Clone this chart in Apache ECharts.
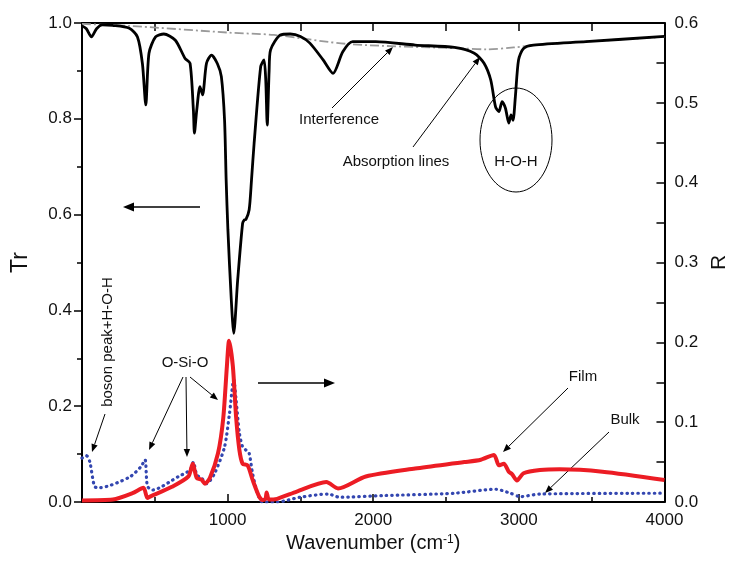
<!DOCTYPE html>
<html>
<head>
<meta charset="utf-8">
<script src="https://cdn.jsdelivr.net/npm/echarts@6/dist/echarts.min.js"></script>
<style>
  html, body { margin: 0; padding: 0; background: #fff; }
  #chart { width: 738px; height: 565px; }
</style>
</head>
<body>
<div id="chart"></div>
<script>
// transmission (left axis)
const trWn = [0, 30, 65, 100, 140, 210, 325, 381, 415, 438, 460, 505, 562, 641, 708, 742, 765, 772, 788, 810, 828, 855, 889, 930, 957, 979, 990, 1002, 1024, 1042, 1069, 1103, 1115, 1126, 1148, 1164, 1182, 1227, 1250, 1262, 1272, 1285, 1295, 1362, 1430, 1500, 1565, 1656, 1724, 1791, 1859, 2017, 2288, 2558, 2694, 2761, 2807, 2840, 2863, 2885, 2908, 2931, 2946, 2960, 2976, 2998, 3032, 3100, 3461, 4000];
const trVal = [0.994, 0.988, 0.971, 0.988, 0.996, 0.995, 0.989, 0.971, 0.915, 0.829, 0.937, 0.971, 0.977, 0.964, 0.926, 0.916, 0.818, 0.770, 0.818, 0.867, 0.850, 0.916, 0.933, 0.915, 0.888, 0.797, 0.672, 0.568, 0.429, 0.352, 0.463, 0.582, 0.589, 0.590, 0.610, 0.672, 0.749, 0.909, 0.923, 0.880, 0.787, 0.900, 0.944, 0.975, 0.977, 0.972, 0.958, 0.923, 0.895, 0.940, 0.961, 0.961, 0.954, 0.949, 0.937, 0.916, 0.881, 0.825, 0.815, 0.836, 0.822, 0.791, 0.808, 0.797, 0.846, 0.923, 0.947, 0.954, 0.961, 0.972];

// interference baseline (left axis)
const bgWn = [0, 325, 1002, 1318, 1836, 2604, 2784, 2965, 3122, 3500, 4000];
const bgVal = [0.998, 0.994, 0.980, 0.975, 0.956, 0.947, 0.945, 0.949, 0.954, 0.962, 0.971];

// reflection, film (right axis)
const filmWn = [0, 212, 347, 422, 449, 471, 618, 731, 760, 788, 821, 844, 878, 934, 970, 995, 1010, 1036, 1058, 1081, 1103, 1137, 1171, 1216, 1239, 1260, 1268, 1284, 1340, 1475, 1678, 1758, 1949, 2288, 2626, 2739, 2829, 2863, 2897, 2931, 2953, 2987, 3032, 3145, 3280, 3574, 4000];
const filmVal = [0.002, 0.003, 0.011, 0.018, 0.005, 0.007, 0.019, 0.032, 0.048, 0.030, 0.028, 0.023, 0.030, 0.061, 0.105, 0.170, 0.202, 0.170, 0.107, 0.065, 0.048, 0.046, 0.028, 0.007, 0.0025, 0.004, 0.012, 0.003, 0.004, 0.013, 0.025, 0.017, 0.032, 0.042, 0.050, 0.053, 0.059, 0.046, 0.048, 0.038, 0.035, 0.027, 0.036, 0.040, 0.041, 0.038, 0.0276];

// reflection, bulk (right axis)
const bulkWn = [0, 31, 54, 88, 122, 325, 404, 433, 449, 483, 663, 742, 765, 788, 821, 855, 911, 979, 1013, 1042, 1058, 1081, 1103, 1126, 1148, 1171, 1205, 1239, 1340, 1498, 1690, 1769, 2062, 2558, 2840, 2942, 3010, 3145, 4000];
const bulkVal = [0.055, 0.058, 0.050, 0.019, 0.018, 0.031, 0.044, 0.053, 0.020, 0.015, 0.032, 0.040, 0.050, 0.034, 0.030, 0.023, 0.036, 0.069, 0.111, 0.153, 0.128, 0.086, 0.069, 0.065, 0.061, 0.036, 0.011, 0.0, 0.0, 0.006, 0.010, 0.006, 0.008, 0.011, 0.016, 0.011, 0.0067, 0.010, 0.011];

const font = 'Liberation Sans, Arial, sans-serif';
const zip = (xs, ys) => xs.map((x, i) => [x, ys[i]]);

function arrow(x1, y1, x2, y2, w, head) {
    let a = Math.atan2(y2 - y1, x2 - x1);
    let hl = head || 8, hw = hl * 0.4;
    let bx = x2 - hl * Math.cos(a), by = y2 - hl * Math.sin(a);
    return [{
        type: 'line',
        shape: { x1: x1, y1: y1, x2: bx, y2: by },
        style: { stroke: '#000', lineWidth: w || 1 }
    }, {
        type: 'polygon',
        shape: { points: [[x2, y2],
            [bx + hw * Math.sin(a), by - hw * Math.cos(a)],
            [bx - hw * Math.sin(a), by + hw * Math.cos(a)]] },
        style: { fill: '#000' }
    }];
}

function label(text, x, y, size, rot) {
    return {
        type: 'text', x: x, y: y, rotation: rot || 0,
        style: { text: text, x: 0, y: 0, fill: '#111', fontSize: size || 15, fontFamily: font, align: 'center', verticalAlign: 'middle' }
    };
}

let graphics = [].concat(
    label('Interference', 339, 120),
    arrow(332, 108, 393, 47),
    label('Absorption lines', 396, 162),
    arrow(413, 147, 480, 57),
    { type: 'ellipse', shape: { cx: 516, cy: 140, rx: 36, ry: 52 }, style: { fill: 'none', stroke: '#000', lineWidth: 1 } },
    label('H-O-H', 516, 162),
    arrow(200, 207, 123, 207, 1.5, 11),
    arrow(258, 383, 335, 383, 1.5, 11),
    label('boson peak+H-O-H', 108, 342, 15, Math.PI / 2),
    arrow(105, 414, 92, 452),
    label('O-Si-O', 185, 363),
    arrow(183, 377, 149, 450),
    arrow(186, 377, 187, 457),
    arrow(190, 377, 218, 400),
    label('Film', 583, 377),
    arrow(568, 388, 503, 452),
    label('Bulk', 625, 420),
    arrow(609, 432, 545, 493)
);

const axisLineStyle = { color: '#000', width: 2 };
const tickStyle = { color: '#000', width: 1.5 };

let option = {
    animation: false,
    textStyle: { fontFamily: font },
    grid: { left: 82, right: 65, top: 23, bottom: 63 },
    xAxis: [{
        type: 'value', min: 0, max: 4000, interval: 1000,
        name: 'Wavenumber (cm{sup|-1})', nameLocation: 'middle', nameGap: 26,
        nameTextStyle: { fontSize: 20, color: '#111', verticalAlign: 'top',
            rich: { sup: { fontSize: 12, verticalAlign: 'top', padding: [0, 0, 8, 0] } } },
        axisLine: { onZero: false, lineStyle: axisLineStyle },
        axisTick: { inside: true, length: 8, lineStyle: tickStyle },
        minorTick: { show: true, splitNumber: 2, length: 5, lineStyle: tickStyle },
        axisLabel: { fontSize: 17, color: '#111', margin: 10, formatter: v => v === 0 ? '' : String(v) },
        splitLine: { show: false }
    }, {
        type: 'value', min: 0, max: 4000, interval: 1000, position: 'top',
        axisLine: { onZero: false, lineStyle: axisLineStyle },
        axisTick: { inside: true, length: 8, lineStyle: tickStyle },
        minorTick: { show: true, splitNumber: 2, length: 8, lineStyle: tickStyle },
        axisLabel: { show: false },
        splitLine: { show: false }
    }],
    yAxis: [{
        type: 'value', min: 0, max: 1, interval: 0.2, position: 'left',
        name: 'Tr', nameLocation: 'middle', nameGap: 50,
        nameTextStyle: { fontSize: 23, color: '#111' },
        axisLine: { show: true, onZero: false, lineStyle: axisLineStyle },
        axisTick: { show: true, length: 8, lineStyle: tickStyle },
        minorTick: { show: true, splitNumber: 2, length: 5, lineStyle: tickStyle },
        axisLabel: { fontSize: 17, color: '#111', margin: 10, formatter: v => v.toFixed(1) },
        splitLine: { show: false }
    }, {
        type: 'value', min: 0, max: 0.6, interval: 0.1, position: 'right',
        name: 'R', nameLocation: 'middle', nameGap: 34,
        nameTextStyle: { fontSize: 21, color: '#111' },
        axisLine: { show: true, onZero: false, lineStyle: axisLineStyle },
        axisTick: { show: true, inside: true, length: 8, lineStyle: tickStyle },
        minorTick: { show: true, splitNumber: 2, length: 8, lineStyle: tickStyle },
        axisLabel: { fontSize: 17, color: '#111', margin: 10, formatter: v => v.toFixed(1) },
        splitLine: { show: false }
    }],
    series: [{
        name: 'Interference', type: 'line', yAxisIndex: 0, showSymbol: false, smooth: 0.3,
        lineStyle: { color: '#9a9a9a', width: 1.8, type: [9, 3, 2, 3] },
        data: zip(bgWn, bgVal), z: 1
    }, {
        name: 'Tr', type: 'line', yAxisIndex: 0, showSymbol: false, smooth: 0.25,
        lineStyle: { color: '#000', width: 2.8 },
        data: zip(trWn, trVal), z: 2
    }, {
        name: 'Bulk', type: 'line', yAxisIndex: 1, showSymbol: false, smooth: 0.25,
        lineStyle: { color: '#3346b0', width: 3.2, type: [0.5, 5], cap: 'round' },
        data: zip(bulkWn, bulkVal), z: 3
    }, {
        name: 'Film', type: 'line', yAxisIndex: 1, showSymbol: false, smooth: 0.25,
        lineStyle: { color: '#ec1c24', width: 4 },
        data: zip(filmWn, filmVal), z: 4
    }],
    graphic: graphics
};

let myChart = echarts.init(document.getElementById('chart'));
myChart.setOption(option);
</script>
</body>
</html>
